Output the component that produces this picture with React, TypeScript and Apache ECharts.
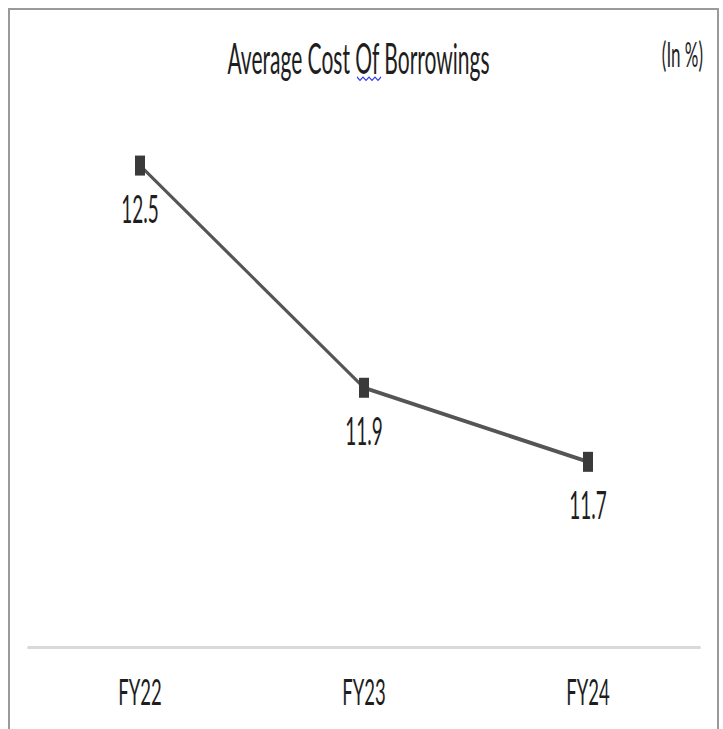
import React, { useEffect, useRef } from "react";
import * as echarts from "echarts";

const categories = ["FY22", "FY23", "FY24"];
const values = [12.5, 11.9, 11.7];
const titleText = "Average Cost Of Borrowings";
const unitText = "(In %)";

const S = 0.5; // horizontal compression of the whole picture
const CONTENT_W = 707;
const INNER_W = CONTENT_W / S;
const H = 719;
const FONT = "Lato, 'Open Sans', sans-serif";

export default function App() {
  const ref = useRef<HTMLDivElement>(null);
  useEffect(() => {
    document.body.style.margin = "0";
    document.body.style.overflow = "hidden";
    const chart = echarts.init(ref.current!, null, { renderer: "svg", width: INNER_W, height: H });
    const squiggle: number[][] = [];
    for (let i = 0; i <= 8; i++) squiggle.push([694 + i * 6, i % 2 === 0 ? 67 : 70.5]);
    chart.setOption({
      animation: false,
      backgroundColor: "#ffffff",
      textStyle: { fontFamily: FONT },
      grid: { left: 36, right: 34, top: 81.5, bottom: 82, containLabel: false },
      xAxis: {
        type: "category",
        data: categories,
        boundaryGap: true,
        axisLine: { show: true, lineStyle: { color: "#d9d9d9", width: 3 } },
        axisTick: { show: false },
        axisLabel: { fontSize: 37, margin: 25, color: "#1e1e1e", fontFamily: FONT },
        splitLine: { show: false },
      },
      yAxis: {
        type: "value",
        min: 11.2,
        max: 12.7,
        show: false,
        splitLine: { show: false },
      },
      graphic: [
        {
          type: "text",
          x: 697,
          y: 27,
          style: {
            text: titleText,
            fontSize: 42,
            fontFamily: FONT,
            fill: "#1e1e1e",
            align: "center",
            verticalAlign: "top",
          },
        },
        {
          type: "polyline",
          shape: { points: squiggle },
          style: { stroke: "#2a3ae0", lineWidth: 1.5, fill: "none" },
        },
        {
          type: "text",
          x: 1386,
          y: 27,
          style: {
            text: unitText,
            fontSize: 34,
            fontFamily: FONT,
            fill: "#1e1e1e",
            align: "right",
            verticalAlign: "top",
          },
        },
      ],
      series: [
        {
          type: "line",
          data: values,
          symbol: "rect",
          symbolSize: 20,
          itemStyle: { color: "#3a3a3a" },
          lineStyle: { color: "#555555", width: 4 },
          label: {
            show: true,
            position: "bottom",
            distance: 13,
            fontSize: 38,
            color: "#1e1e1e",
            fontFamily: FONT,
          },
        },
      ],
    });
    return () => chart.dispose();
  }, []);
  return (
    <div style={{ position: "relative", width: 723, height: 729, overflow: "hidden", background: "#fff" }}>
      <div
        style={{
          position: "absolute",
          left: 8,
          top: 8,
          width: CONTENT_W,
          height: 760,
          borderLeft: "2px solid #9a9a9a",
          borderTop: "2px solid #9a9a9a",
          borderRight: "2px solid #9a9a9a",
          overflow: "hidden",
        }}
      >
        <div
          ref={ref}
          style={{ width: INNER_W, height: H, transform: `scaleX(${S})`, transformOrigin: "0 0" }}
        />
      </div>
    </div>
  );
}
